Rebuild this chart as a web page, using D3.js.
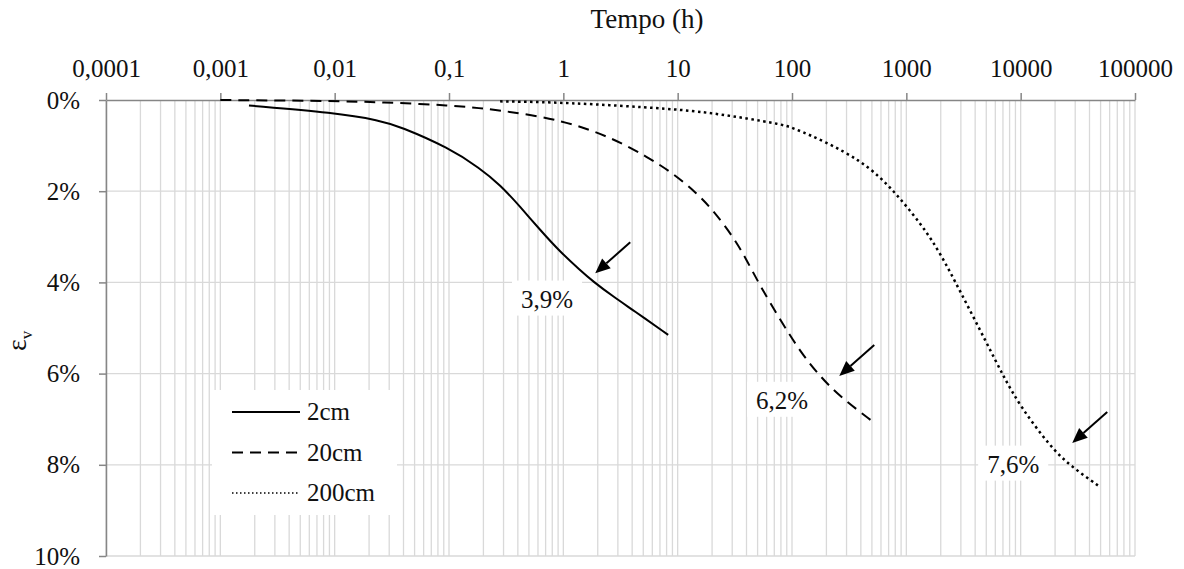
<!DOCTYPE html>
<html>
<head>
<meta charset="utf-8">
<script src="https://cdn.jsdelivr.net/npm/d3@7"></script>
<style>
body { margin: 0; background: #fff; }
</style>
</head>
<body>
<div class="container"></div>
<script>
// tempo (h) and volumetric strain (%)
var tempo2 = [0.00178, 0.01, 0.025, 0.037, 0.1, 0.187, 0.28, 0.419, 0.627, 0.938, 1.4, 1.82, 2.73, 4.08, 8.26];
var ev2 = [0.12, 0.28, 0.45, 0.58, 1.05, 1.5, 1.86, 2.34, 2.85, 3.33, 3.73, 3.98, 4.31, 4.61, 5.15];

var tempo20 = [0.001, 0.01, 0.025, 0.1, 0.28, 1, 2.73, 5.36, 9.15, 14.8, 20.4, 30.6, 40, 52.7, 78.9, 118, 177, 264, 513];
var ev20 = [0.0, 0.02, 0.05, 0.11, 0.22, 0.44, 0.84, 1.24, 1.61, 2.05, 2.42, 3.0, 3.5, 4.08, 4.82, 5.52, 6.07, 6.51, 7.06];

var tempo200 = [0.28, 1, 10, 20, 40, 79, 100, 202, 395, 592, 773, 1011, 1416, 1982, 2966, 5070, 7100, 9930, 18150, 27000, 49800];
var ev200 = [0.03, 0.05, 0.2, 0.29, 0.4, 0.53, 0.6, 0.93, 1.33, 1.7, 2.0, 2.34, 2.8, 3.36, 4.2, 5.34, 6.07, 6.72, 7.6, 8.02, 8.49];

var seriesNames = ["2cm", "20cm", "200cm"];

var topTicks = [0.0001, 0.001, 0.01, 0.1, 1, 10, 100, 1000, 10000, 100000];
var topTickLabels = ["0,0001", "0,001", "0,01", "0,1", "1", "10", "100", "1000", "10000", "100000"];
var yTicks = [0, 2, 4, 6, 8, 10];

var noteLabels = ["3,9%", "6,2%", "7,6%"];
var noteTipTempo = [1.9, 259, 28250];
var noteTipEv = [3.8, 6.05, 7.52];
var noteTextTempo = [0.72, 82, 8600];
var noteTextEv = [4.36, 6.58, 7.98];

var FONT = "'Liberation Serif', 'Times New Roman', serif";
var AXIS_COLOR = "#868686", GRID_COLOR = "#d9d9d9";

var xScale = d3.scaleLog().domain([0.0001, 100000]).range([106, 1135]);
var yScale = d3.scaleLinear().domain([0, 10]).range([100, 556]);

var styles = [
	{width: 2, dash: null, legWidth: 2, legDash: null},
	{width: 2, dash: "11,7", legWidth: 2, legDash: "11,7"},
	{width: 2.5, dash: "2.5,3.5", legWidth: 1.5, legDash: "1.5,2.5"}
];

var toPoints = function(ts, vs) {
	return ts.map(function(t, i) { return {t: t, v: vs[i]}; });
}

var svg = d3.select('.container').append('svg')
	.attr('width', 1184)
	.attr('height', 569)
	.style('font-family', FONT);

// grid -----------------------------------------------------------------------------
var grid = svg.append('g');
grid.selectAll('line.vgrid').data(xScale.ticks())
	.enter().append('line')
	.attr('x1', function(d) { return xScale(d); })
	.attr('x2', function(d) { return xScale(d); })
	.attr('y1', yScale(0))
	.attr('y2', yScale(10))
	.attr('stroke', GRID_COLOR)
	.attr('stroke-width', 1.3);

grid.selectAll('line.hgrid').data(yTicks.slice(1))
	.enter().append('line')
	.attr('x1', xScale(0.0001))
	.attr('x2', xScale(100000))
	.attr('y1', function(d) { return yScale(d); })
	.attr('y2', function(d) { return yScale(d); })
	.attr('stroke', GRID_COLOR)
	.attr('stroke-width', 1.3);

// axes -----------------------------------------------------------------------------
var styleAxis = function(g) {
	g.attr('font-family', FONT).attr('font-size', 25);
	g.selectAll('path, line').attr('stroke', AXIS_COLOR).attr('stroke-width', 1.5);
	g.selectAll('text').attr('fill', '#111');
}

svg.append('g')
	.attr('transform', 'translate(0,' + yScale(0) + ')')
	.call(d3.axisTop(xScale).tickValues(topTicks)
		.tickFormat(function(d, i) { return topTickLabels[i]; })
		.tickSize(7).tickSizeOuter(0).tickPadding(16))
	.call(styleAxis);

svg.append('g')
	.attr('transform', 'translate(' + xScale(0.0001) + ',0)')
	.call(d3.axisLeft(yScale).tickValues(yTicks)
		.tickFormat(function(d) { return d + "%"; })
		.tickSize(7).tickSizeOuter(0).tickPadding(19))
	.call(styleAxis);

svg.append('text')
	.attr('x', 647).attr('y', 28)
	.attr('text-anchor', 'middle')
	.attr('font-size', 27)
	.attr('fill', '#111')
	.text('Tempo (h)');

var yLab = svg.append('text')
	.attr('transform', 'translate(26,351) rotate(-90)')
	.attr('fill', '#111');
yLab.append('tspan').attr('font-size', 28).text('ε');
yLab.append('tspan').attr('font-size', 17).attr('dy', 6).text('v');

// legend box ----------------------------------------------------------------------
var legend = svg.append('g');
legend.append('rect')
	.attr('x', 212).attr('y', 390).attr('width', 185).attr('height', 125)
	.attr('fill', '#fff');
seriesNames.forEach(function(name, i) {
	var ly = 412 + i * 40.5;
	legend.append('line')
		.attr('x1', 232).attr('x2', 300).attr('y1', ly).attr('y2', ly)
		.attr('stroke', '#000')
		.attr('stroke-width', styles[i].legWidth)
		.attr('stroke-dasharray', styles[i].legDash);
	legend.append('text')
		.attr('x', 307).attr('y', ly + 8)
		.attr('font-size', 25)
		.attr('fill', '#111')
		.text(name);
});

// annotation label boxes ------------------------------------------------------------
var notes = svg.append('g');
noteLabels.forEach(function(lab, i) {
	var t = notes.append('text')
		.attr('x', xScale(noteTextTempo[i]))
		.attr('y', yScale(noteTextEv[i]))
		.attr('dy', '0.35em')
		.attr('text-anchor', 'middle')
		.attr('font-size', 25)
		.attr('fill', '#111')
		.text(lab);
	var bb = t.node().getBBox();
	notes.insert('rect', 'text')
		.attr('x', bb.x - 9).attr('y', bb.y - 5)
		.attr('width', bb.width + 18).attr('height', bb.height + 8)
		.attr('fill', '#fff');
});

// curves ----------------------------------------------------------------------------
var line = d3.line()
	.x(function(d) { return xScale(d.t); })
	.y(function(d) { return yScale(d.v); })
	.curve(d3.curveBasis);

var series = [toPoints(tempo2, ev2), toPoints(tempo20, ev20), toPoints(tempo200, ev200)];
series.forEach(function(data, i) {
	svg.append('path')
		.datum(data)
		.attr('d', line)
		.attr('fill', 'none')
		.attr('stroke', '#000')
		.attr('stroke-width', styles[i].width)
		.attr('stroke-dasharray', styles[i].dash);
});

// arrows ----------------------------------------------------------------------------
noteLabels.forEach(function(lab, i) {
	var tx = xScale(noteTipTempo[i]), ty = yScale(noteTipEv[i]);
	var sx = tx + 35, sy = ty - 31;
	var ang = Math.atan2(ty - sy, tx - sx);
	var hl = 15, hw = 6.5;
	var bx = tx - hl * Math.cos(ang), by = ty - hl * Math.sin(ang);
	svg.append('line')
		.attr('x1', sx).attr('y1', sy).attr('x2', bx).attr('y2', by)
		.attr('stroke', '#000').attr('stroke-width', 2);
	svg.append('path')
		.attr('d', 'M' + tx + ',' + ty +
			'L' + (bx + hw * Math.sin(ang)) + ',' + (by - hw * Math.cos(ang)) +
			'L' + (bx - hw * Math.sin(ang)) + ',' + (by + hw * Math.cos(ang)) + 'Z')
		.attr('fill', '#000');
});
</script>
</body>
</html>
